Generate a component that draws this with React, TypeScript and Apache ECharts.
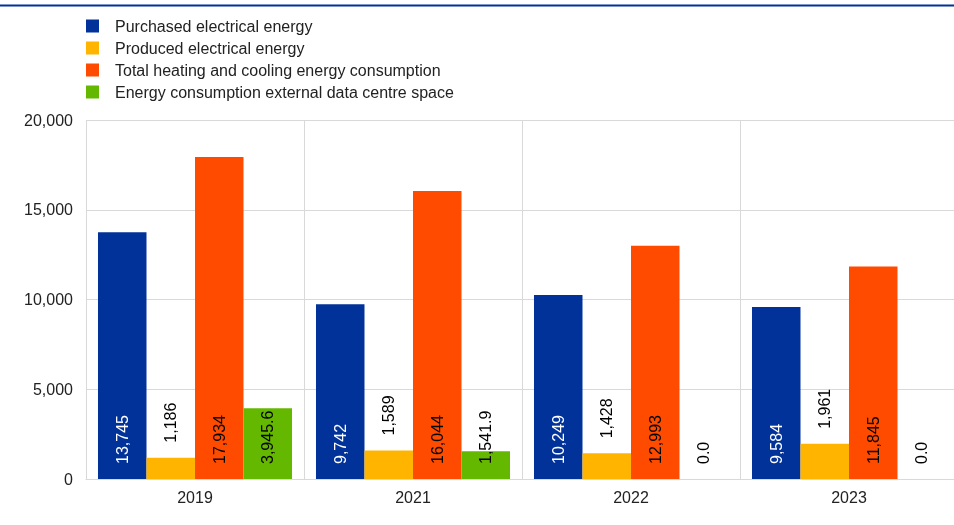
import React, { useEffect, useRef } from "react";
import * as echarts from "echarts";

const years = ["2019", "2021", "2022", "2023"];
const seriesNames = [
  "Purchased electrical energy",
  "Produced electrical energy",
  "Total heating and cooling energy consumption",
  "Energy consumption external data centre space",
];
const purchased = [13745, 9742, 10249, 9584];
const produced = [1186, 1589, 1428, 1961];
const heating = [17934, 16044, 12993, 11845];
const external = [3945.6, 1541.9, 0.0, 0.0];
const colors = ["#003299", "#FFB400", "#FF4B00", "#65B800"];

const FONT = "'Liberation Sans', Arial, sans-serif";

const fmtInt = (v: number) =>
  Math.round(v).toString().replace(/\B(?=(\d{3})+(?!\d))/g, ",");
const fmt1 = (v: number) => {
  const [i, d] = v.toFixed(1).split(".");
  return i.replace(/\B(?=(\d{3})+(?!\d))/g, ",") + "." + d;
};

export default function App() {
  const ref = useRef<HTMLDivElement>(null);
  useEffect(() => {
    if (!ref.current) return;
    const chart = echarts.init(ref.current, undefined, { renderer: "svg" });
    const label = (pos: string, color: string, f: (v: number) => string) => ({
      show: true,
      position: pos,
      rotate: 90,
      align: "left",
      verticalAlign: "middle",
      distance: 15,
      color,
      fontSize: 16,
      fontFamily: FONT,
      formatter: (p: any) => f(p.value as number),
    });
    const datas = [purchased, produced, heating, external];
    const labels = [
      label("insideBottom", "#ffffff", fmtInt),
      label("top", "#000000", fmtInt),
      label("insideBottom", "#000000", fmtInt),
      label("insideBottom", "#000000", fmt1),
    ];
    chart.setOption({
      animation: false,
      color: colors,
      graphic: [
        {
          type: "line",
          shape: { x1: 0, y1: 5.5, x2: 954, y2: 5.5 },
          style: { stroke: "#003299", lineWidth: 2 },
        },
      ],
      legend: {
        orient: "vertical",
        left: 86,
        top: 18,
        padding: 0,
        itemWidth: 13,
        itemHeight: 13,
        itemGap: 6,
        icon: "rect",
        textStyle: {
          fontSize: 16,
          fontFamily: FONT,
          color: "#222",
          lineHeight: 16,
          padding: [0, 0, 0, 11],
        },
        data: seriesNames,
      },
      grid: { left: 86, top: 120, right: 0, bottom: 46, containLabel: false },
      xAxis: {
        type: "category",
        data: years,
        axisLine: { show: true, lineStyle: { color: "#d9d9d9", width: 1 } },
        axisTick: { show: false },
        splitLine: { show: true, lineStyle: { color: "#d9d9d9", width: 1 } },
        axisLabel: { fontSize: 16, fontFamily: FONT, color: "#222", margin: 10 },
      },
      yAxis: {
        type: "value",
        min: 0,
        max: 20000,
        interval: 5000,
        axisLine: { show: false },
        axisTick: { show: false },
        splitLine: { show: true, lineStyle: { color: "#d9d9d9", width: 1 } },
        axisLabel: {
          fontSize: 16,
          fontFamily: FONT,
          color: "#222",
          margin: 13,
          formatter: (v: number) => fmtInt(v),
        },
      },
      series: seriesNames.map((name, i) => ({
        name,
        type: "bar",
        data: datas[i],
        barGap: "0%",
        barCategoryGap: "11%",
        label: labels[i],
        itemStyle: { color: colors[i] },
      })),
    });
    return () => chart.dispose();
  }, []);
  return (
    <div
      ref={ref}
      style={{ position: "fixed", left: 0, top: 0, width: 958, height: 525 }}
    />
  );
}
